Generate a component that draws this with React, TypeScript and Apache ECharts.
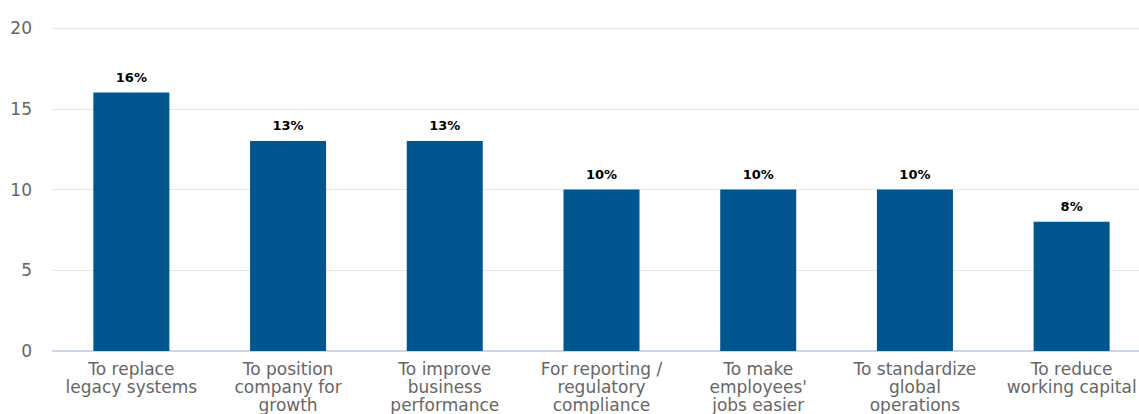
import React, { useEffect, useRef } from "react";
import * as echarts from "echarts";

const categories = [
  "To replace\nlegacy systems",
  "To position\ncompany for\ngrowth",
  "To improve\nbusiness\nperformance",
  "For reporting /\nregulatory\ncompliance",
  "To make\nemployees'\njobs easier",
  "To standardize\nglobal\noperations",
  "To reduce\nworking capital",
];
const values = [16, 13, 13, 10, 10, 10, 8];
const yTicks = { min: 0, max: 20, interval: 5 };

export default function App() {
  const ref = useRef<HTMLDivElement>(null);
  useEffect(() => {
    document.body.style.margin = "0";
    const chart = echarts.init(ref.current!, null, { renderer: "svg" });
    chart.setOption({
      animation: false,
      grid: { left: 53, right: 0, top: 28, bottom: 63, containLabel: false },
      xAxis: {
        type: "category",
        data: categories,
        axisTick: { show: false },
        axisLine: { lineStyle: { color: "#ccd6eb", width: 2 } },
        axisLabel: {
          color: "#666666",
          fontFamily: "DejaVu Sans",
          fontSize: 17,
          lineHeight: 18,
          margin: 9,
          interval: 0,
        },
      },
      yAxis: {
        type: "value",
        min: yTicks.min,
        max: yTicks.max,
        interval: yTicks.interval,
        axisLine: { show: false },
        axisTick: { show: false },
        splitLine: { lineStyle: { color: "#e6e6e6", width: 1 } },
        axisLabel: {
          color: "#666666",
          fontFamily: "DejaVu Sans",
          fontSize: 17,
          margin: 21,
        },
      },
      series: [
        {
          type: "bar",
          data: values,
          barWidth: 76,
          itemStyle: { color: "#01568f" },
          label: {
            show: true,
            position: "top",
            distance: 9,
            formatter: "{c}%",
            color: "#000000",
            fontWeight: "bold",
            fontFamily: "DejaVu Sans",
            fontSize: 13,
          },
        },
      ],
    });
    return () => chart.dispose();
  }, []);
  return (
    <div style={{ width: 1139, height: 414, overflow: "hidden" }}>
      <div ref={ref} style={{ width: 1150, height: 414 }} />
    </div>
  );
}
